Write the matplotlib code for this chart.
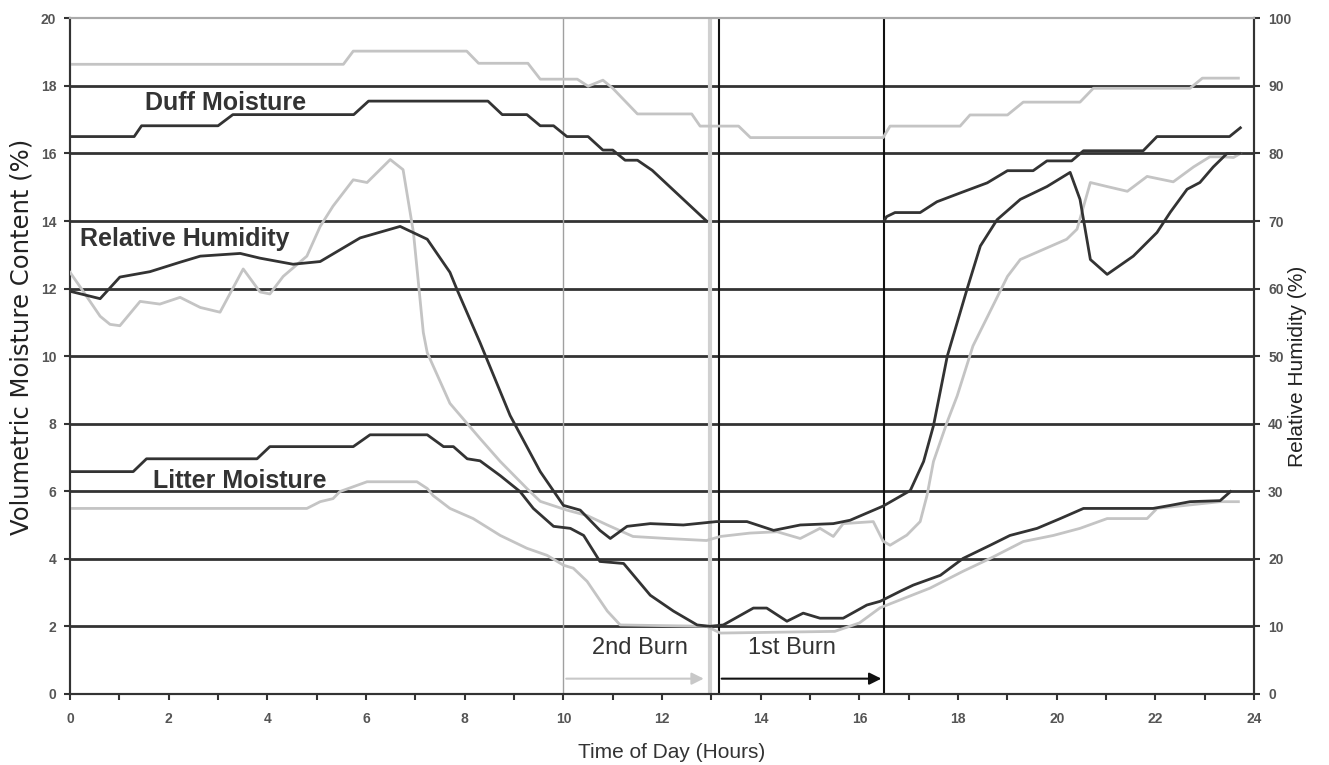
import numpy as np
import matplotlib
matplotlib.use("Agg")
from matplotlib import pyplot as plt

plt.rcParams["font.family"] = ["Liberation Sans", "DejaVu Sans"]

# duff moisture, 1st burn day (dark) - broken during the burn
duff1_h = [0, 1.3, 1.45, 3.0, 3.3, 5.75, 6.05, 8.47, 8.76, 9.26, 9.53, 9.8, 10.07, 10.5, 10.8, 11.0, 11.25, 11.5, 11.8, 12.9,
           np.nan,
           16.5, 16.55, 16.72, 17.23, 17.57, 18.04, 18.59, 19.0, 19.52, 19.8, 20.3, 20.54, 21.75, 22.03, 23.5, 23.72]
duff1_v = [16.5, 16.5, 16.82, 16.82, 17.15, 17.15, 17.55, 17.55, 17.15, 17.15, 16.82, 16.82, 16.5, 16.5, 16.1, 16.1, 15.8, 15.8, 15.5, 14.0,
           np.nan,
           14.0, 14.13, 14.25, 14.25, 14.57, 14.83, 15.13, 15.49, 15.49, 15.78, 15.78, 16.08, 16.08, 16.5, 16.5, 16.76]

# duff moisture, 2nd burn day (gray)
duff2_h = [0, 5.54, 5.74, 8.04, 8.28, 9.28, 9.53, 10.28, 10.5, 10.8, 11.0, 11.5, 12.6, 12.77, 13.55, 13.79,
           16.48, 16.62, 18.04, 18.24, 19.0, 19.32, 20.47, 20.74, 22.7, 22.95, 23.68]
duff2_v = [18.64, 18.64, 19.03, 19.03, 18.67, 18.67, 18.2, 18.2, 17.99, 18.17, 17.93, 17.17, 17.17, 16.81, 16.81, 16.47,
           16.47, 16.81, 16.81, 17.14, 17.14, 17.52, 17.52, 17.93, 17.93, 18.23, 18.23]

# relative humidity (%), 1st burn day (dark)
rh1_h = [0, 0.61, 1.01, 1.62, 2.23, 2.64, 3.45, 3.85, 4.52, 5.07, 5.88, 6.69, 7.24, 7.7, 7.84, 8.31, 8.92, 9.53,
         10.0, 10.34, 10.74, 10.95, 11.29, 11.76, 12.43, 13.1, 13.72, 14.26, 14.8, 15.47, 15.81, 16.48, 17.03, 17.3,
         17.5, 17.78, 18.18, 18.45, 18.79, 19.26, 19.8, 20.27, 20.47, 20.68, 21.02, 21.55, 22.03, 22.3, 22.64, 22.9,
         23.17, 23.45, 23.72]
rh1 = [59.6, 58.5, 61.7, 62.5, 63.9, 64.8, 65.2, 64.5, 63.6, 64.0, 67.5, 69.2, 67.3, 62.4, 59.9, 52.0, 41.2, 32.9,
       27.9, 27.2, 24.2, 23.0, 24.8, 25.2, 25.0, 25.5, 25.5, 24.2, 25.0, 25.2, 25.7, 27.8, 30.1, 34.4,
       39.7, 50.0, 59.9, 66.3, 70.2, 73.2, 75.1, 77.2, 73.2, 64.3, 62.1, 64.8, 68.3, 71.3, 74.7, 75.7,
       78.0, 80.0, 80.0]

# relative humidity (%), 2nd burn day (gray)
rh2_h = [0, 0.2, 0.61, 0.81, 1.01, 1.42, 1.82, 2.23, 2.64, 3.04, 3.51, 3.85, 4.05, 4.32, 4.8, 5.07, 5.33, 5.74,
         6.02, 6.49, 6.75, 6.96, 7.16, 7.24, 7.7, 7.84, 8.31, 8.72, 9.26, 9.53, 10.07, 10.48, 10.89, 11.41, 12.1,
         12.9, 13.18, 13.78, 14.33, 14.8, 15.2, 15.47, 15.67, 16.28, 16.48, 16.62, 16.96, 17.23, 17.37, 17.5,
         17.78, 17.98, 18.3, 19.0, 19.26, 20.2, 20.41, 20.68, 21.02, 21.43, 21.83, 22.36, 22.77, 23.1, 23.38,
         23.58, 23.72]
rh2 = [62.4, 60.3, 55.9, 54.7, 54.5, 58.1, 57.7, 58.7, 57.2, 56.5, 62.9, 59.5, 59.2, 61.8, 64.8, 69.2, 72.2, 76.1,
       75.7, 79.1, 77.6, 68.3, 53.5, 50.5, 43.0, 41.8, 37.8, 34.4, 30.4, 28.5, 27.2, 26.4, 25.0, 23.3, 23.0,
       22.7, 23.3, 23.8, 24.0, 23.0, 24.5, 23.3, 25.2, 25.5, 22.6, 22.0, 23.5, 25.5, 29.4, 34.4,
       40.3, 44.1, 51.5, 61.8, 64.3, 67.3, 68.8, 75.7, 75.1, 74.4, 76.6, 75.8, 78.0, 79.5, 79.5,
       79.4, 80.0]

# litter moisture, 1st burn day (dark)
lit1_h = [0, 1.28, 1.55, 3.79, 4.05, 5.74, 6.08, 7.24, 7.57, 7.77, 8.05, 8.31, 8.72, 9.12, 9.39, 9.8, 10.14, 10.41,
          10.74, 11.22, 11.76, 12.23, 12.71, 12.97, 13.24, 13.85, 14.12, 14.53, 14.86, 15.2, 15.67, 16.15, 16.42,
          16.83, 17.09, 17.64, 18.1, 18.65, 19.05, 19.6, 20.07, 20.54, 21.95, 22.3, 22.7, 23.31, 23.52]
lit1_v = [6.58, 6.58, 6.96, 6.96, 7.32, 7.32, 7.67, 7.67, 7.32, 7.32, 6.96, 6.9, 6.46, 5.99, 5.49, 4.96, 4.9, 4.69,
          3.92, 3.86, 2.92, 2.45, 2.04, 2.0, 2.04, 2.54, 2.54, 2.15, 2.39, 2.24, 2.24, 2.63, 2.74,
          3.04, 3.22, 3.51, 4.01, 4.4, 4.69, 4.9, 5.19, 5.49, 5.49, 5.58, 5.69, 5.72, 5.99]

# litter moisture, 2nd burn day (gray)
lit2_h = [0, 4.8, 5.07, 5.33, 5.47, 6.02, 7.03, 7.24, 7.36, 7.7, 8.17, 8.72, 9.26, 9.67, 10.0, 10.2, 10.48, 10.89,
          11.15, 12.9, 13.18, 15.5, 16.0, 16.42, 17.43, 18.1, 18.65, 19.32, 19.93, 20.47, 21.02, 21.83, 22.03,
          23.31, 23.68]
lit2_v = [5.49, 5.49, 5.69, 5.78, 5.99, 6.28, 6.28, 6.08, 5.87, 5.49, 5.19, 4.69, 4.31, 4.1, 3.81, 3.72, 3.33, 2.45,
          2.04, 2.0, 1.8, 1.85, 2.1, 2.55, 3.13, 3.63, 4.01, 4.51, 4.69, 4.9, 5.19, 5.19, 5.49,
          5.69, 5.69]

dark = "#333333"
light = "#c4c4c4"

fig = plt.figure(figsize=(13.29, 7.65), dpi=100)
ax = fig.add_axes([0.0527, 0.093, 0.891, 0.883])
ax2 = ax.twinx()

ax.set_xlim(0, 24)
ax.set_ylim(0, 20)
ax2.set_ylim(0, 100)
ax.set_xticks(range(0, 25, 2))
ax.set_xticks(range(1, 24, 2), minor=True)
ax.set_yticks(range(0, 21, 2))
ax2.set_yticks(range(0, 101, 10))

for y in range(2, 20, 2):
    ax.axhline(y, color=dark, lw=2, zorder=1)

# burn period markers
ax.axvline(10, color="#a0a0a0", lw=1, zorder=1)
ax.axvline(12.97, color="#d0d0d0", lw=3, zorder=1)
ax.axvline(13.15, color="#111111", lw=1.5, zorder=1)
ax.axvline(16.5, color="#111111", lw=1.5, zorder=1)

ax.plot(duff2_h, duff2_v, color=light, lw=2, zorder=3)
ax.plot(lit2_h, lit2_v, color=light, lw=2, zorder=3)
ax2.plot(rh2_h, rh2, color=light, lw=2, zorder=3)
ax.plot(duff1_h, duff1_v, color=dark, lw=2, zorder=4)
ax.plot(lit1_h, lit1_v, color=dark, lw=2, zorder=4)
ax2.plot(rh1_h, rh1, color=dark, lw=2, zorder=4)

ax.annotate("", xy=(12.9, 0.45), xytext=(10, 0.45),
            arrowprops=dict(arrowstyle="-|>", color="#c8c8c8", lw=1.5, mutation_scale=18))
ax.annotate("", xy=(16.5, 0.45), xytext=(13.15, 0.45),
            arrowprops=dict(arrowstyle="-|>", color="#111111", lw=1.5, mutation_scale=18))
ax.text(11.55, 1.37, "2nd Burn", ha="center", va="center", fontsize=17, color="#333333")
ax.text(14.64, 1.37, "1st Burn", ha="center", va="center", fontsize=17, color="#333333")

ax.text(1.52, 17.5, "Duff Moisture", fontsize=18, fontweight="bold", color="#333333", va="center")
ax.text(0.2, 13.48, "Relative Humidity", fontsize=18, fontweight="bold", color="#333333", va="center")
ax.text(1.68, 6.31, "Litter Moisture", fontsize=18, fontweight="bold", color="#333333", va="center")

for a in (ax, ax2):
    for s in a.spines.values():
        s.set_color(dark)
        s.set_linewidth(1.5)
    a.spines["top"].set_color("#aaaaaa")
ax.tick_params(which="both", direction="out", length=4, width=1.5, colors=dark)
ax.tick_params(axis="x", labelsize=10, pad=9)
ax.tick_params(axis="y", labelsize=10, pad=6)
ax2.tick_params(direction="out", length=4, width=1.5, colors=dark, labelsize=10, pad=6)
for lab in ax.get_xticklabels() + ax.get_yticklabels() + ax2.get_yticklabels():
    lab.set_fontweight("bold")
    lab.set_color("#555555")

ax.set_xlabel("Time of Day (Hours)", fontsize=15, color="#333333", va="center")
ax.xaxis.set_label_coords(0.508, -0.087)
ax.set_ylabel("Volumetric Moisture Content (%)", fontsize=17.5, color="#222222",
              family=["DejaVu Sans"], va="center")
ax.yaxis.set_label_coords(-0.041, 0.528)
ax2.set_ylabel("Relative Humidity (%)", fontsize=15, color="#222222", va="center")
ax2.yaxis.set_label_coords(1.037, 0.485)

fig.savefig("out.png", dpi=100)
